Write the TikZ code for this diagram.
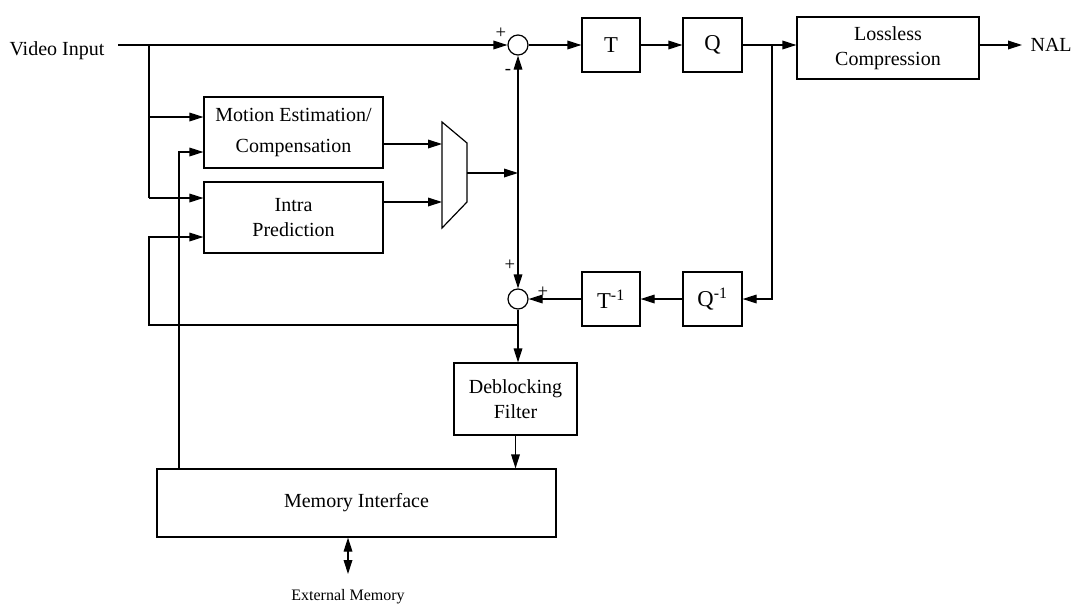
\documentclass[tikz,border=0pt]{standalone}
\usepackage{fontspec}
\setmainfont{Liberation Serif}
\usetikzlibrary{arrows.meta}
\begin{document}
\begin{tikzpicture}[x=0.75pt,y=-0.75pt, line width=0.9pt,
  box/.style={draw, line width=0.9pt, align=center, inner sep=0pt, font=\fontsize{15}{19}\selectfont},
  bigbox/.style={box, font=\fontsize{17}{20}\selectfont},
  sumnode/.style={draw, circle, minimum size=15pt, inner sep=0pt},
  arr/.style={-{Triangle[length=10.5pt,width=6.5pt]}},
  darr/.style={{Triangle[length=10.5pt,width=6.5pt]}-{Triangle[length=10.5pt,width=6.5pt]}},
  sign/.style={font=\fontsize{14}{14}\selectfont, inner sep=0pt},
  lbl/.style={font=\fontsize{15}{18}\selectfont, inner sep=0pt}]
\useasboundingbox (0,0) rectangle (1077,607);

% blocks
\node[box, font=\fontsize{15}{23}\selectfont, minimum width=134.25pt, minimum height=53.25pt] (me) at (293.5,132.5) {Motion Estimation/\\Compensation};
\node[box, minimum width=134.25pt, minimum height=53.25pt] (ip) at (293.5,217.5) {Intra\\Prediction};
\node[bigbox, minimum width=43.5pt, minimum height=40.5pt] (t) at (611,45) {T};
\node[bigbox, minimum width=44.25pt, minimum height=40.5pt] (q) at (712.5,45) {Q};
\node[box, minimum width=136.5pt, minimum height=46.5pt] (lc) at (888,48) {Lossless\\Compression};
\node[bigbox, minimum width=43.5pt, minimum height=40.5pt] (ti) at (611,299) {T\textsuperscript{-1}};
\node[bigbox, minimum width=44.25pt, minimum height=40.5pt] (qi) at (712.5,299) {Q\textsuperscript{-1}};
\node[box, minimum width=92.25pt, minimum height=54pt] (db) at (515.5,399) {Deblocking\\Filter};
\node[box, minimum width=299.25pt, minimum height=51pt] (mem) at (356.5,503) {Memory Interface};
\node[sumnode] (s1) at (518,45) {};
\node[sumnode] (s2) at (518,299) {};

% labels
\node[lbl, anchor=base east] (vin) at (105,55) {Video Input};
\node[lbl, anchor=west] (naltext) at (1030,45) {NAL};
\node[font=\fontsize{12}{12}\selectfont, inner sep=0pt] (extm) at (348,597) {External Memory};
\node[sign] (p1) at (501,33) {+};
\node[sign] (m1s) at (508,72) {-};
\node[sign] (p2) at (510,265) {+};
\node[sign] (p3) at (543,292) {+};

% mux
\coordinate (mxa) at (442,122);
\coordinate (mxb) at (467,143);
\coordinate (mxc) at (467,202);
\coordinate (mxd) at (442,228);
\draw (mxa) -- (mxb) -- (mxc) -- (mxd) -- cycle;

% coordinates
\coordinate (vs) at (118,45);
\coordinate (b1) at (149,45);
\coordinate (a1) at (149,117);
\coordinate (a2) at (149,198);
\coordinate (mm) at (179,152);
\coordinate (f1) at (518,325);
\coordinate (f2) at (149,325);
\coordinate (f3) at (149,237);
\coordinate (mi1) at (442,144);
\coordinate (mi2) at (442,202);
\coordinate (mo) at (467,173);
\coordinate (j) at (518,173);
\coordinate (nal) at (1022,45);
\coordinate (b2) at (772,45);
\coordinate (b3) at (772,299);
\coordinate (ext) at (348,574);

% connectors
\draw[arr] (vs) -- (s1.west);
\draw (b1) -- (a2);
\draw[arr] (a1) -- (a1 -| me.west);
\draw[arr] (a2) -- (a2 -| ip.west);
\draw[arr] (mm |- mem.north) -- (mm) -- (mm -| me.west);
\draw[arr] (f1) -- (f2) -- (f3) -- (f3 -| ip.west);
\draw[arr] (mi1 -| me.east) -- (mi1);
\draw[arr] (mi2 -| ip.east) -- (mi2);
\draw[arr] (mo) -- (j);
\draw[arr] (j) -- (s1.south);
\draw[arr] (j) -- (s2.north);
\draw[arr] (s1.east) -- (t.west);
\draw[arr] (t.east) -- (q.west);
\draw[arr] (q.east) -- (q.east -| lc.west);
\draw[arr] (lc.east |- nal) -- (nal);
\draw[arr] (b2) -- (b3) -- (qi.east);
\draw[arr] (qi.west) -- (ti.east);
\draw[arr] (ti.west) -- (s2.east);
\draw (s2.south) -- (f1);
\draw[arr] (f1) -- (f1 |- db.north);
\draw[arr] (db.south) -- (db.south |- mem.north);
\draw[darr] (ext |- mem.south) -- (ext);
\end{tikzpicture}
\end{document}
